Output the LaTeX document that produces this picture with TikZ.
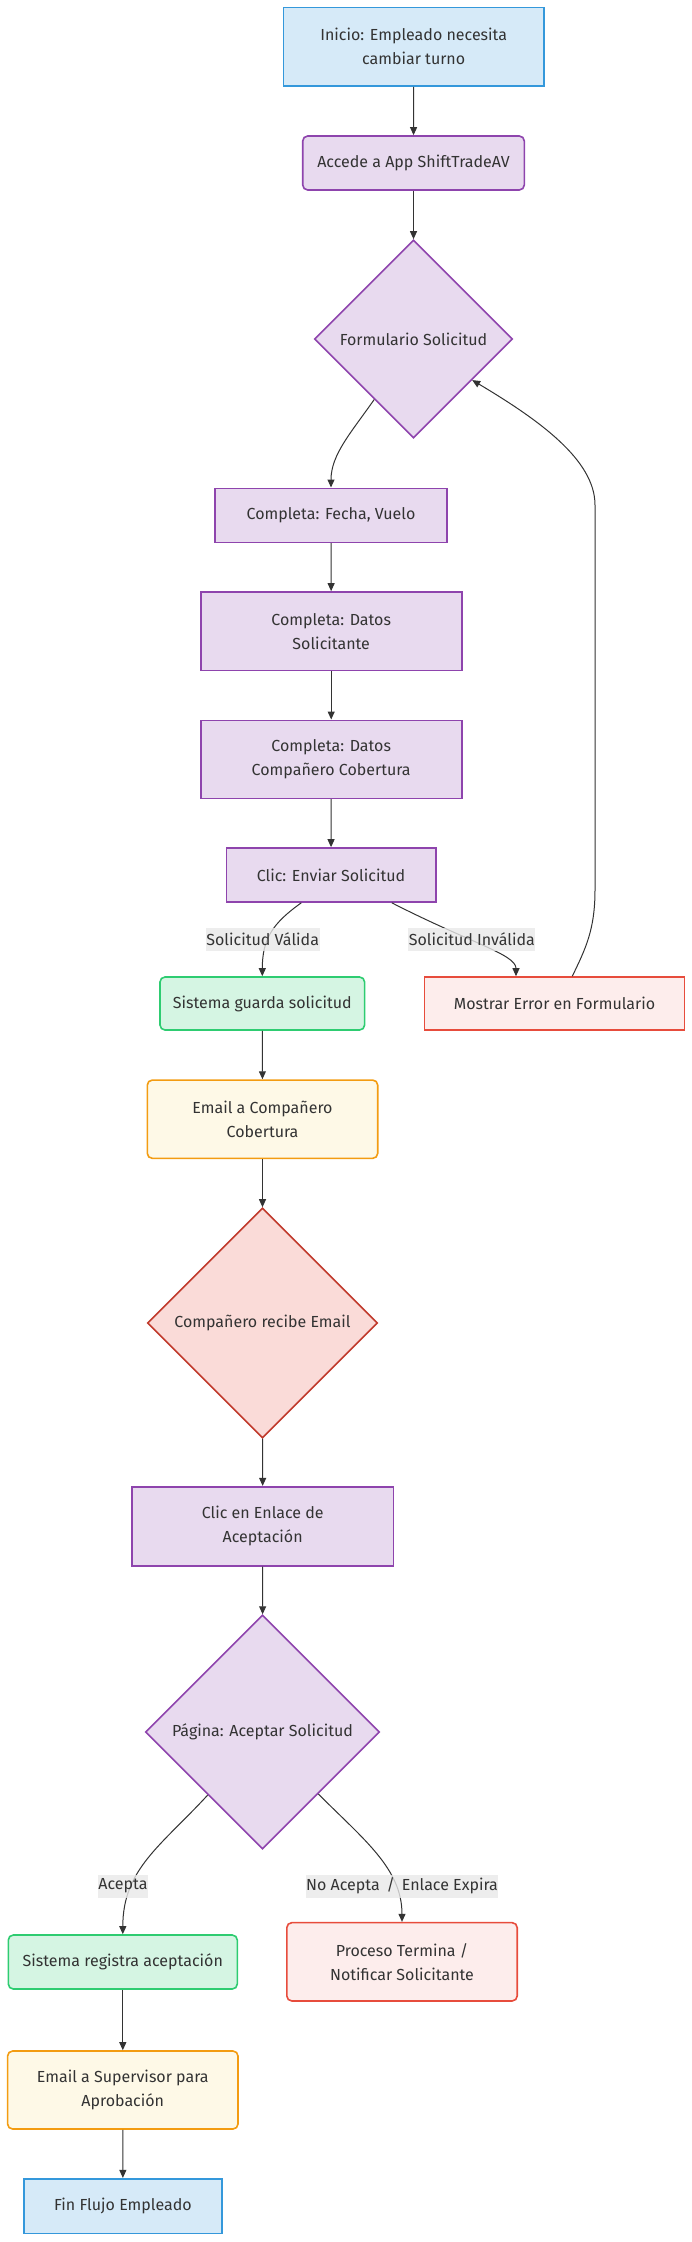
\documentclass[tikz,border=0pt]{standalone}
\usepackage{fontspec}
\setmainfont{Fira Sans}
\usetikzlibrary{shapes.geometric,arrows.meta}
\definecolor{txt}{HTML}{333333}
\definecolor{edgec}{HTML}{333333}
\definecolor{labelbg}{HTML}{E8E8E8}
\definecolor{bluefill}{HTML}{D6EAF8}
\definecolor{bluestroke}{HTML}{3498DB}
\definecolor{purfill}{HTML}{E8DAEF}
\definecolor{purstroke}{HTML}{8E44AD}
\definecolor{grnfill}{HTML}{D5F5E3}
\definecolor{grnstroke}{HTML}{2ECC71}
\definecolor{redfill}{HTML}{FDEDEC}
\definecolor{redstroke}{HTML}{E74C3C}
\definecolor{orgfill}{HTML}{FEF9E7}
\definecolor{orgstroke}{HTML}{F39C12}
\definecolor{dredfill}{HTML}{FADBD8}
\definecolor{dredstroke}{HTML}{C0392B}
\begin{document}
\begin{tikzpicture}[x=1pt,y=-1pt,
  base/.style={draw, line width=1.6pt, text=txt, font=\fontsize{16}{24}\selectfont, align=center, inner sep=0pt},
  boxblue/.style={base, fill=bluefill, draw=bluestroke},
  boxpur/.style={base, fill=purfill, draw=purstroke},
  boxgrn/.style={base, fill=grnfill, draw=grnstroke, rounded corners=5pt},
  boxred/.style={base, fill=redfill, draw=redstroke},
  boxorg/.style={base, fill=orgfill, draw=orgstroke, rounded corners=5pt},
  decide/.style={base, shape=diamond, aspect=1},
  edge/.style={draw=edgec, line width=1pt, -{Triangle[length=8pt,width=7pt]}},
  elabel/.style={fill=labelbg, fill opacity=0.8, text opacity=1, text=txt, font=\fontsize{16}{24}\selectfont, inner xsep=0.5pt, inner ysep=0pt, minimum height=23pt}
]
\useasboundingbox (0,0) rectangle (692,2242);

\node[boxblue, minimum width=260.7pt, minimum height=78.7pt] (inicio) at (413.7,46.7) {Inicio: Empleado necesita\\cambiar turno};
\node[boxpur, rounded corners=5pt, minimum width=221.6pt, minimum height=54pt] (accede) at (413.5,163) {Accede a App ShiftTradeAV};
\node[decide, fill=purfill, draw=purstroke, minimum width=198pt, minimum height=198pt] (form) at (413.5,339) {Formulario Solicitud};
\node[boxpur, minimum width=232pt, minimum height=54pt] (fecha) at (331,515.3) {Completa: Fecha, Vuelo};
\node[boxpur, minimum width=261pt, minimum height=78.7pt] (datsol) at (331.2,631.3) {Completa: Datos\\Solicitante};
\node[boxpur, minimum width=261pt, minimum height=78pt] (datcom) at (331.2,759.3) {Completa: Datos\\Compañero Cobertura};
\node[boxpur, minimum width=209.4pt, minimum height=54pt] (clic) at (331,875) {Clic: Enviar Solicitud};
\node[boxgrn, minimum width=204.6pt, minimum height=53pt] (guarda) at (262.3,1003.5) {Sistema guarda solicitud};
\node[boxred, minimum width=260pt, minimum height=53pt] (error) at (554.5,1003.5) {Mostrar Error en Formulario};
\node[boxorg, minimum width=230.4pt, minimum height=78.3pt] (emailc) at (262.5,1119.2) {Email a Compañero\\Cobertura};
\node[decide, fill=dredfill, draw=dredstroke, minimum width=230pt, minimum height=230pt] (recibe) at (262.5,1323) {Compañero recibe Email};
\node[boxpur, minimum width=261.3pt, minimum height=79pt] (enlace) at (262.7,1526.2) {Clic en Enlace de\\Aceptación};
\node[decide, fill=purfill, draw=purstroke, minimum width=234pt, minimum height=234pt] (pagina) at (262.5,1732) {Página: Aceptar Solicitud};
\node[boxgrn, minimum width=229pt, minimum height=54pt] (registra) at (122.8,1962) {Sistema registra aceptación};
\node[boxred, rounded corners=5pt, minimum width=230.4pt, minimum height=78.3pt] (proceso) at (402,1961.8) {Proceso Termina /\\Notificar Solicitante};
\node[boxorg, minimum width=230.4pt, minimum height=78pt] (emails) at (122.8,2090) {Email a Supervisor para\\Aprobación};
\node[boxblue, minimum width=198pt, minimum height=54.6pt] (fin) at (122.9,2206) {Fin Flujo Empleado};

\draw[edge] (inicio) -- (accede);
\draw[edge] (accede) -- (form);
\draw[edge] (form.-123) .. controls +(-23,33) and +(0,-33) .. (fecha.north);
\draw[edge] (fecha) -- (datsol);
\draw[edge] (datsol) -- (datcom);
\draw[edge] (datcom) -- (clic);
\draw[edge] ([xshift=-29.7pt]clic.south) .. controls +(-28,20) and +(0,-38) .. (guarda.north);
\draw[edge] ([xshift=60.8pt]clic.south) .. controls +(78,40) and +(0,-22) .. ([xshift=-38.5pt]error.north);
\draw[edge] ([xshift=17.8pt]error.north) .. controls +(13,-27) and +(0,40) .. (595,890) -- (595,505) .. controls +(0,-45) and +(67,40) .. (form.-35);
\draw[edge] (guarda) -- (emailc);
\draw[edge] (emailc) -- (recibe);
\draw[edge] (recibe) -- (enlace);
\draw[edge] (enlace) -- (pagina);
\draw[edge] (pagina.-131) .. controls +(-47,51) and +(0,-65) .. (registra.north);
\draw[edge] (pagina.-48) .. controls +(46,46) and +(0,-53) .. (proceso.north);
\draw[edge] (registra) -- (emails);
\draw[edge] (emails) -- (fin);

\node[elabel] (lval) at (262.7,939) {Solicitud Válida};
\node[elabel] (linv) at (471.8,939) {Solicitud Inválida};
\node[elabel] (lacep) at (123,1886) {Acepta};
\node[elabel] (lno) at (402,1886) {No Acepta \,/\, Enlace Expira};
\end{tikzpicture}
\end{document}
